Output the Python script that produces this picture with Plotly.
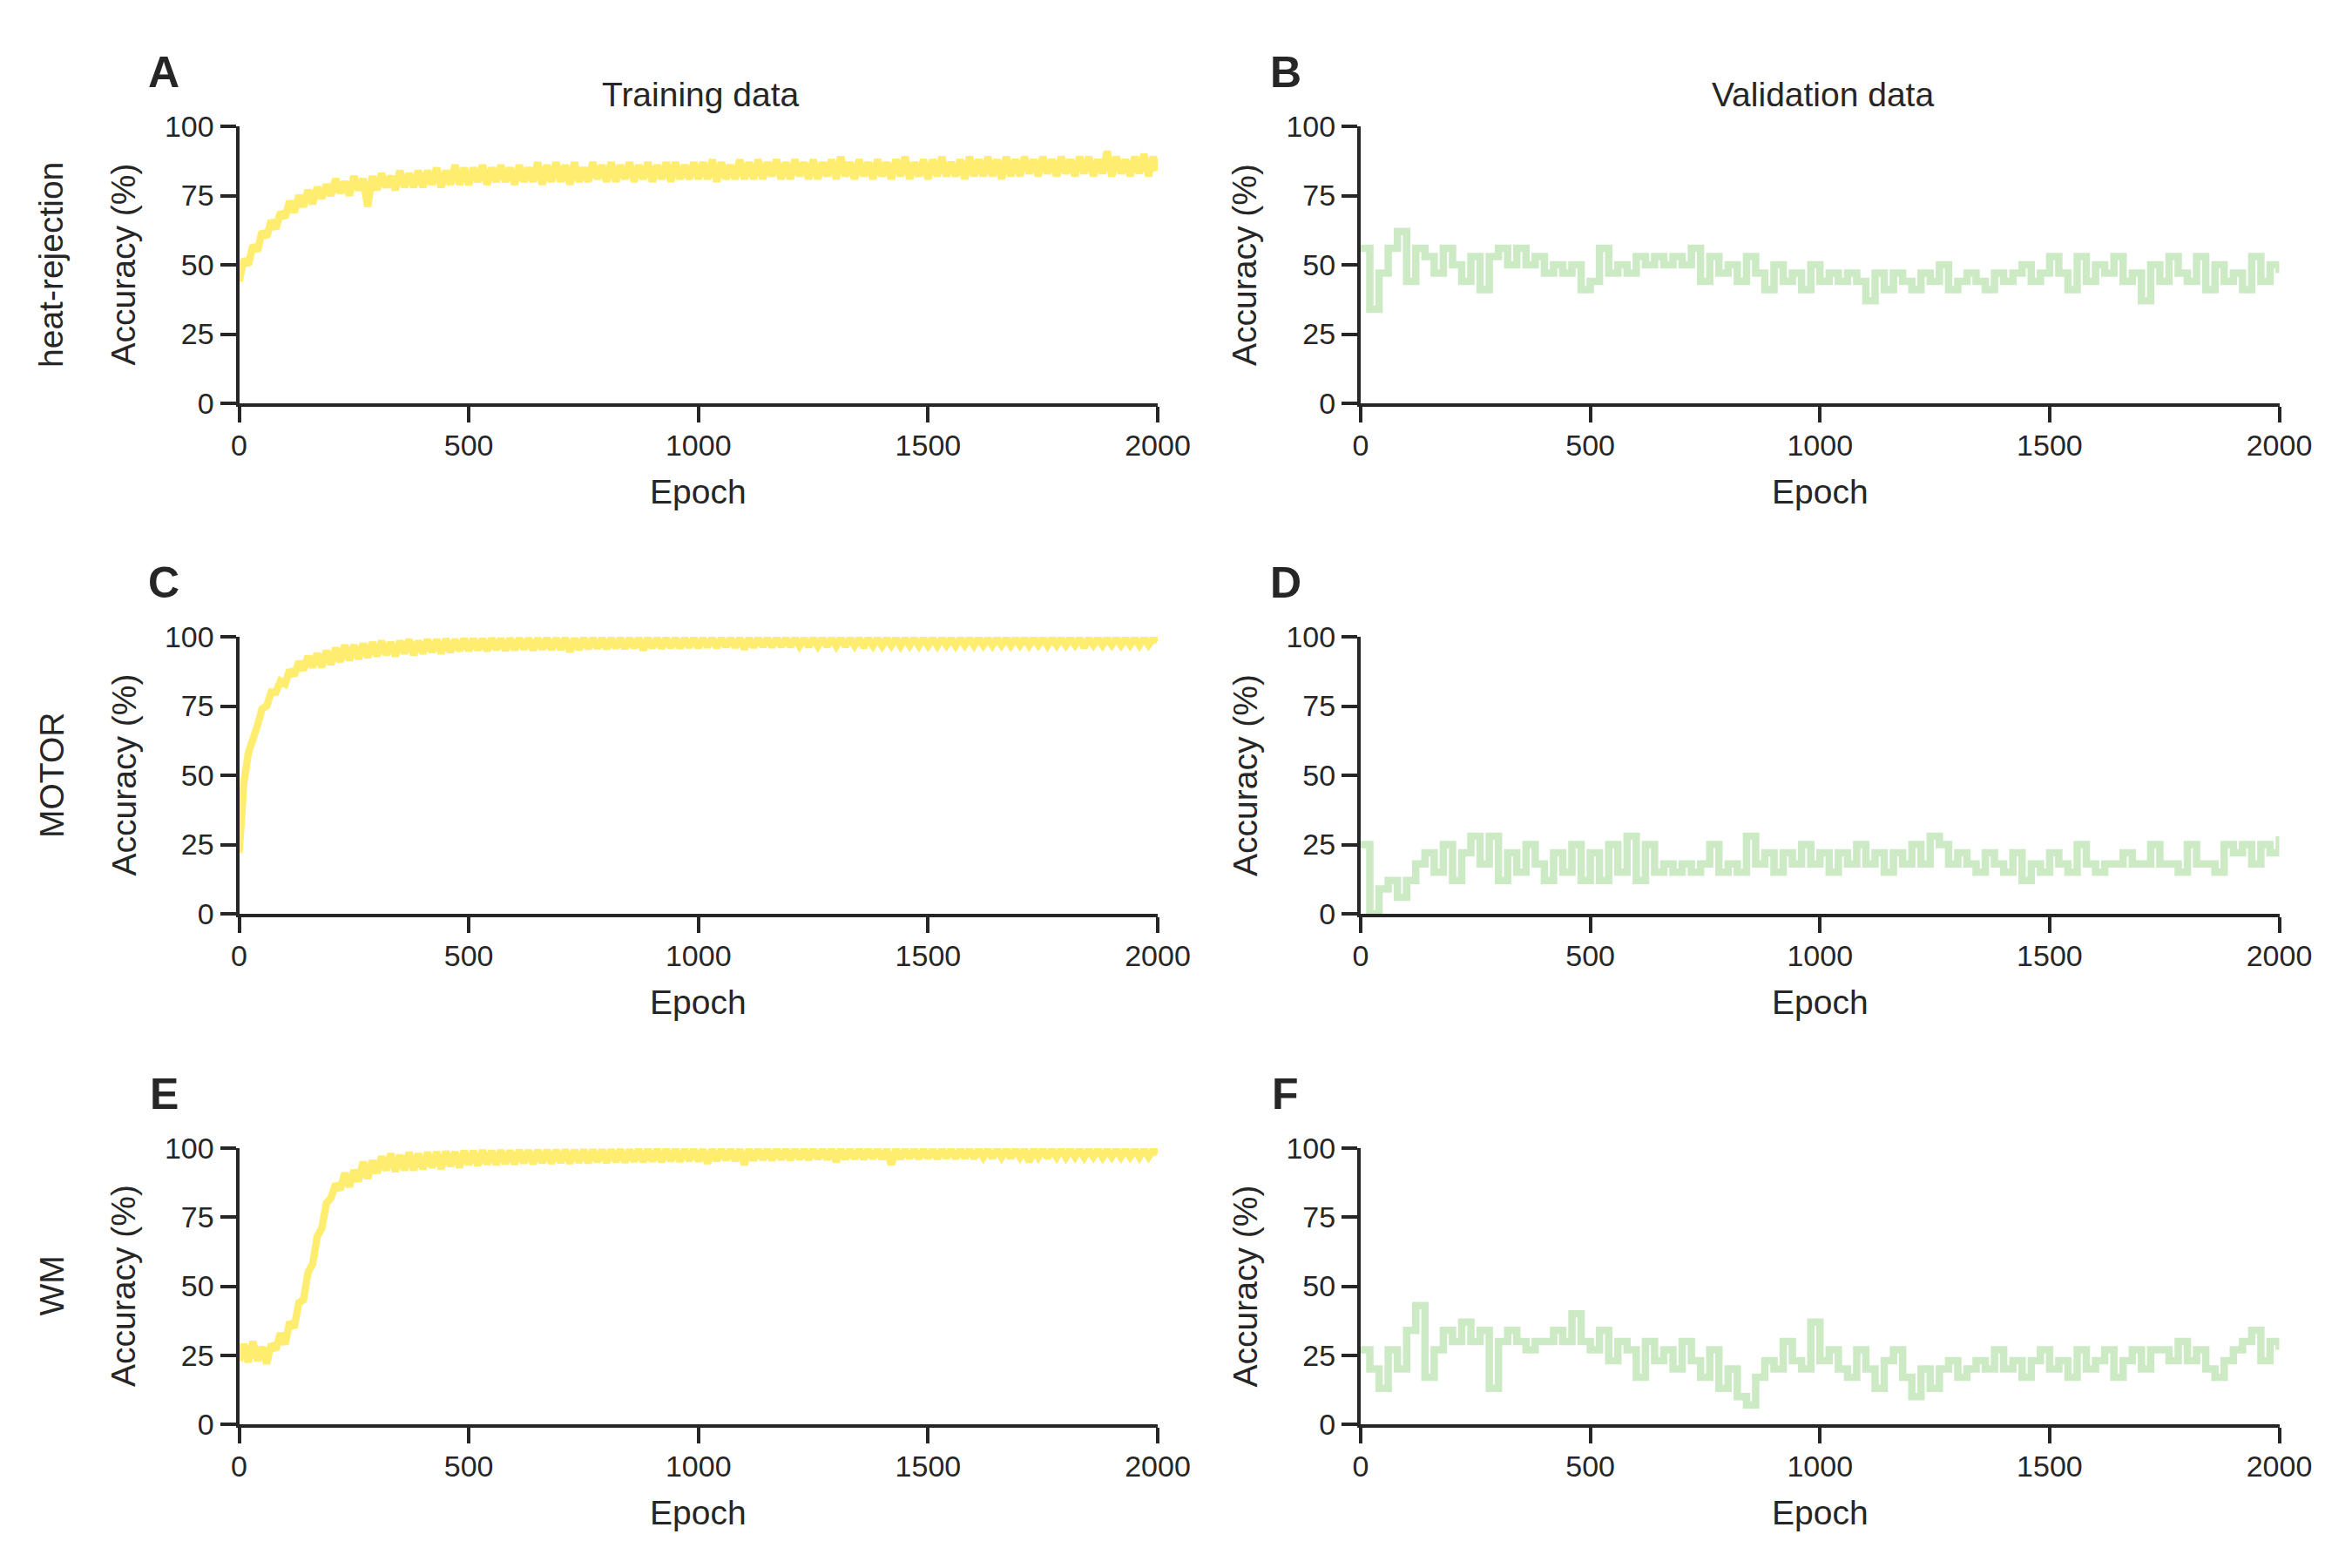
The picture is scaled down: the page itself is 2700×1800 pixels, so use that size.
# -*- coding: utf-8 -*-
"""
Curvas de precisión (entrenamiento / validación) por tarea – Plotly.
"""

import plotly.graph_objects as go


# ---------------------------------------------------------------------------
# DATOS (entrenamiento cada 10 épocas, validación cada 20)
# ---------------------------------------------------------------------------

EPOCHS_TRAIN = list(range(0, 2001, 10))
EPOCHS_VAL = list(range(0, 2001, 20))

HEAT_TRAIN = [
    44, 52, 50, 57, 55, 62, 60, 66, 63, 69,
    67, 73, 69, 75, 71, 77, 72, 78, 74, 79,
    75, 81, 76, 80, 75, 82, 77, 81, 71, 82,
    77, 83, 78, 82, 77, 84, 78, 83, 78, 84,
    78, 84, 79, 85, 78, 84, 79, 86, 79, 85,
    79, 85, 80, 86, 79, 85, 80, 86, 80, 85,
    79, 86, 80, 85, 80, 87, 79, 86, 80, 87,
    80, 86, 79, 87, 80, 85, 80, 87, 81, 86,
    80, 87, 80, 86, 81, 87, 80, 86, 81, 87,
    80, 86, 81, 87, 80, 87, 81, 86, 81, 87,
    81, 87, 81, 88, 80, 87, 81, 86, 81, 88,
    81, 87, 81, 88, 81, 87, 82, 88, 81, 87,
    81, 88, 82, 87, 81, 88, 81, 87, 82, 88,
    81, 89, 82, 87, 81, 88, 82, 87, 81, 88,
    82, 87, 81, 88, 82, 89, 81, 87, 82, 88,
    81, 88, 82, 89, 82, 87, 82, 88, 81, 89,
    82, 88, 82, 89, 82, 88, 81, 89, 82, 88,
    82, 89, 83, 88, 82, 89, 83, 88, 82, 89,
    83, 88, 82, 89, 83, 89, 82, 88, 83, 91,
    82, 89, 83, 88, 82, 89, 83, 90, 82, 89,
    84,
]

MOTOR_TRAIN = [
    22, 47, 58, 63, 68, 74, 75, 80, 80, 84,
    83, 88, 86, 91, 88, 93, 89, 94, 89, 95,
    90, 96, 91, 97, 91.5, 97, 92, 97.5, 92.5, 98,
    93, 98.5, 93.5, 98, 93, 98.5, 94, 99, 93.5, 98.5,
    94, 99, 94.5, 99, 94, 99.2, 94.5, 99, 95, 99.3,
    95, 99.3, 95.2, 99.3, 95, 99.4, 95.4, 99.3, 95.1, 99.4,
    95.3, 99.4, 95.6, 99.4, 95.2, 99.4, 95.6, 99.5, 95.4, 99.4,
    95.5, 99.5, 94.6, 99.4, 95.4, 99.5, 95.7, 99.5, 95.9, 99.5,
    95.7, 99.5, 96, 99.5, 95.8, 99.5, 96.1, 99.5, 95.2, 99.5,
    96.1, 99.5, 95.9, 99.5, 96.2, 99.5, 96, 99.5, 96.3, 99.5,
    96.1, 99.5, 96.4, 99.5, 96.2, 99.5, 96.5, 99.5, 96.3, 99.5,
    95.6, 99.5, 96.3, 99.5, 96.6, 99.5, 96.4, 99.5, 96.6, 99.5,
    96.5, 99.5, 96.7, 99.5, 96.5, 99.5, 96.7, 99.5, 96.6, 99.5,
    96.7, 99.5, 96.6, 99.5, 96.8, 99.5, 96.2, 99.5, 96.8, 99.5,
    96.7, 99.5, 96.9, 99.5, 96.7, 99.5, 96.9, 99.5, 96.8, 99.5,
    96.9, 99.5, 96.8, 99.5, 97, 99.5, 96.8, 99.5, 97, 99.5,
    96.9, 99.5, 97, 99.5, 96.9, 99.5, 97, 99.5, 96.9, 99.5,
    97, 99.5, 96.9, 99.5, 97.1, 99.5, 96.9, 99.5, 97, 99.5,
    97, 99.5, 97.1, 99.5, 96.2, 99.5, 97.1, 99.5, 97, 99.5,
    97.1, 99.5, 97, 99.5, 97.1, 99.5, 97, 99.5, 97.1, 99.5,
    98.5,
]

WM_TRAIN = [
    23, 29, 22.5, 30, 23, 28, 22, 29, 27, 33,
    29, 37, 35, 44, 45, 55, 58, 68, 71, 80,
    82, 87, 85, 91, 86, 92, 88, 95, 89, 95.5,
    91, 97, 92, 98, 91.5, 97.5, 92, 98.5, 92, 98,
    92.5, 98.5, 93, 98.6, 92.5, 98.8, 93.5, 98.6, 93, 99,
    94, 99, 93.8, 99.2, 94.2, 99, 94, 99.2, 94.4, 99.1,
    94.2, 99.3, 94.6, 99.2, 94.3, 99.3, 94.7, 99.3, 94.5, 99.3,
    94.8, 99.4, 94.5, 99.3, 94.9, 99.4, 94.7, 99.4, 95, 99.4,
    94.8, 99.4, 95.1, 99.5, 94.9, 99.4, 95.2, 99.5, 95, 99.5,
    95.3, 99.5, 95.1, 99.5, 95.4, 99.5, 95.2, 99.5, 95.5, 99.5,
    95.3, 99.5, 94.5, 99.5, 95.5, 99.5, 95.7, 99.5, 95.5, 99.5,
    94, 99.5, 95.6, 99.5, 95.9, 99.5, 95.7, 99.5, 96, 99.5,
    95.8, 99.5, 96.1, 99.5, 95.9, 99.5, 96.2, 99.5, 96, 99.5,
    95, 99.5, 96.1, 99.5, 96.3, 99.5, 96.1, 99.5, 96.4, 99.5,
    96.2, 99.5, 94, 99.5, 96.2, 99.5, 96.5, 99.5, 96.3, 99.5,
    96.5, 99.5, 96.3, 99.5, 96.6, 99.5, 96.4, 99.5, 96.6, 99.5,
    96.4, 99.5, 96.7, 99.5, 96.5, 99.5, 96.7, 99.5, 96.5, 99.5,
    96.8, 99.5, 95, 99.5, 96.8, 99.5, 96.6, 99.5, 96.8, 99.5,
    96.7, 99.5, 96.9, 99.5, 96.7, 99.5, 96.9, 99.5, 96.7, 99.5,
    96.9, 99.5, 96.8, 99.5, 96.9, 99.5, 96.8, 99.5, 96.9, 99.5,
    98,
]

HEAT_VAL = [
    56, 34, 47, 56, 62, 44, 56, 53, 47, 56,
    50, 44, 53, 41, 53, 56, 50, 56, 50, 53,
    47, 50, 47, 50, 41, 44, 56, 47, 50, 47,
    53, 50, 53, 50, 53, 50, 56, 44, 53, 47,
    50, 44, 53, 47, 41, 50, 44, 47, 41, 50,
    44, 47, 44, 47, 44, 37, 47, 41, 47, 44,
    41, 47, 44, 50, 41, 44, 47, 44, 41, 47,
    44, 47, 50, 44, 47, 53, 47, 41, 53, 44,
    50, 47, 53, 44, 47, 37, 50, 44, 53, 47,
    44, 53, 41, 50, 44, 47, 41, 53, 44, 50,
    47,
]

MOTOR_VAL = [
    25, 0, 9, 12, 6, 12, 18, 22, 15, 25,
    12, 22, 28, 18, 28, 12, 22, 15, 25, 18,
    12, 22, 15, 25, 12, 22, 12, 25, 15, 28,
    12, 25, 15, 18, 15, 18, 15, 18, 25, 15,
    18, 15, 28, 18, 22, 15, 22, 18, 25, 18,
    22, 15, 22, 18, 25, 18, 22, 15, 22, 18,
    25, 18, 28, 25, 18, 22, 18, 15, 22, 18,
    15, 22, 12, 18, 15, 22, 18, 15, 25, 18,
    15, 18, 18, 22, 18, 18, 25, 18, 18, 15,
    25, 18, 18, 15, 25, 22, 25, 18, 25, 22,
    28,
]

WM_VAL = [
    27, 20, 13, 27, 20, 34, 43, 17, 27, 34,
    30, 37, 30, 34, 13, 30, 34, 30, 27, 30,
    30, 34, 30, 40, 30, 27, 34, 23, 30, 27,
    17, 30, 23, 27, 20, 30, 23, 17, 27, 13,
    20, 10, 7, 17, 23, 20, 30, 23, 20, 37,
    23, 27, 20, 17, 27, 20, 13, 23, 27, 17,
    10, 20, 13, 20, 23, 17, 20, 23, 20, 27,
    20, 23, 17, 23, 27, 20, 23, 17, 27, 20,
    23, 27, 17, 23, 27, 20, 27, 27, 23, 30,
    23, 27, 20, 17, 23, 27, 30, 34, 23, 30,
    27,
]

ROW_NAMES = ['heat-rejection', 'MOTOR', 'WM']
COL_TITLES = ['Training data', 'Validation data']
PANEL_LETTERS = ['A', 'B', 'C', 'D', 'E', 'F']
X_TICKS = [0, 500, 1000, 1500, 2000]
Y_TICKS = [0, 25, 50, 75, 100]

SERIES = [
    (HEAT_TRAIN, HEAT_VAL),
    (MOTOR_TRAIN, MOTOR_VAL),
    (WM_TRAIN, WM_VAL),
]

# ---------------------------------------------------------------------------
# ESTILO
# ---------------------------------------------------------------------------

W, H = 2700, 1800
TRAIN_COLOR = '#ffed6f'
VAL_COLOR = '#ccebc5'
INK = '#262626'
FONT = 'Liberation Sans, Arial, sans-serif'

# posición de los ejes en píxeles (izq, der) / (arriba, abajo)
COL_X = [(274.5, 1329), (1562, 2616.5)]
ROW_Y = [(145, 463), (731, 1049), (1318, 1635)]


def px(x):
    return x / W


def py(y):
    return 1 - y / H


fig = go.Figure()
annotations = []
axes = {}

k = 0
for r, (train, val) in enumerate(SERIES):
    for c, values in enumerate((train, val)):
        k += 1
        sfx = '' if k == 1 else str(k)
        epochs = EPOCHS_TRAIN if c == 0 else EPOCHS_VAL
        fig.add_trace(go.Scatter(
            x=epochs[:len(values)], y=values,
            mode='lines',
            line=dict(color=TRAIN_COLOR if c == 0 else VAL_COLOR, width=8.5,
                      shape='linear' if c == 0 else 'hv', simplify=False),
            xaxis='x' + sfx, yaxis='y' + sfx,
            showlegend=False, hoverinfo='skip',
        ))

        x0, x1 = COL_X[c]
        y0, y1 = ROW_Y[r]
        common = dict(
            showline=True, linecolor=INK, linewidth=4,
            ticks='outside', ticklen=18, tickwidth=4, tickcolor=INK,
            showgrid=False, zeroline=False, automargin=False,
            tickfont=dict(family=FONT, size=34, color=INK),
        )
        axes['xaxis' + sfx] = dict(
            common, domain=[px(x0), px(x1)], anchor='y' + sfx,
            range=[0, 2000], tickvals=X_TICKS, ticklabelstandoff=-3,
        )
        axes['yaxis' + sfx] = dict(
            common, domain=[py(y1), py(y0)], anchor='x' + sfx,
            range=[0, 100], tickvals=Y_TICKS,
        )

        # etiqueta del panel
        annotations.append(dict(
            x=px(x0 - 86.5), y=py(y0 - 62), text='<b>%s</b>' % PANEL_LETTERS[k - 1],
            font=dict(family=FONT, size=50, color=INK),
        ))
        # títulos de eje
        annotations.append(dict(
            x=px((x0 + x1) / 2), y=py(y1 + 101), text='Epoch',
            font=dict(family=FONT, size=39, color=INK),
        ))
        annotations.append(dict(
            x=px(x0 - 133), y=py((y0 + y1) / 2), text='Accuracy (%)',
            textangle=-90, font=dict(family=FONT, size=39, color=INK),
        ))
        if r == 0:
            annotations.append(dict(
                x=px((x0 + x1) / 2 + 3), y=py(108), text=COL_TITLES[c],
                font=dict(family=FONT, size=39, color=INK),
            ))

    annotations.append(dict(
        x=px(59), y=py(sum(ROW_Y[r]) / 2), text=ROW_NAMES[r],
        textangle=-90, font=dict(family=FONT, size=39, color=INK),
    ))

for ann in annotations:
    ann.update(dict(showarrow=False, xref='paper', yref='paper',
                    xanchor='center', yanchor='middle'))

fig.update_layout(
    width=W, height=H,
    margin=dict(l=0, r=0, t=0, b=0),
    plot_bgcolor='white', paper_bgcolor='white',
    font=dict(family=FONT, color=INK),
    annotations=annotations,
    **axes,
)

# sin márgenes de página para que la figura ocupe exactamente la ventana
fig.write_html(
    'out.html',
    config={'displayModeBar': False},
    post_script="document.body.style.margin='0';document.body.style.overflow='hidden';",
)
